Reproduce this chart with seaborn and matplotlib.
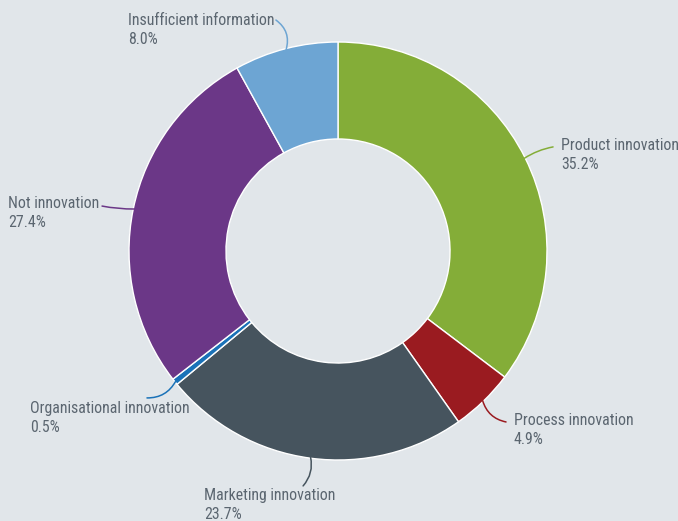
import matplotlib
matplotlib.use("Agg")
import matplotlib.pyplot as plt
import seaborn as sns
import numpy as np

# data
categories = ["Product innovation", "Process innovation", "Marketing innovation",
              "Organisational innovation", "Not innovation", "Insufficient information"]
shares = [35.2, 4.9, 23.7, 0.5, 27.4, 8.0]
colors = ["#84ad38", "#9a1b20", "#46545e", "#1a72b8", "#6b3787", "#6da5d3"]

# label layout: text anchor (left, middle of block), leader end near text, curve
label_pos = {
    "Product innovation": ((1.067, 0.459), (1.029, 0.498), 0.1),
    "Process innovation": ((0.842, -0.856), (0.804, -0.818), -0.3),
    "Marketing innovation": ((-0.641, -1.215), (-0.167, -1.124), 0.25),
    "Organisational innovation": ((-1.474, -0.799), (-0.914, -0.703), 0.3),
    "Not innovation": ((-1.579, 0.182), (-1.129, 0.215), 0.05),
    "Insufficient information": ((-1.005, 1.057), (-0.297, 1.105), -0.35),
}

bg = "#e1e6ea"
txt = "#5b6670"

sns.set_style("white")
plt.rcParams["font.family"] = ["Roboto Condensed", "Roboto", "DejaVu Sans"]

fig = plt.figure(figsize=(6.78, 5.21), dpi=100, facecolor=bg)
ax = fig.add_axes([0, 0, 1, 1])
ax.set_facecolor(bg)

wedges, _ = ax.pie(shares, colors=colors, startangle=90, counterclock=False,
                   radius=1.0, wedgeprops=dict(width=0.464, edgecolor="white", linewidth=1.0))

total = sum(shares)
cum = 0
for w, cat, val, col in zip(wedges, categories, shares, colors):
    mid = 90 - (cum + val / 2) / total * 360
    cum += val
    px, py = np.cos(np.radians(mid)), np.sin(np.radians(mid))
    (tx, ty), (lx, ly), rad = label_pos[cat]
    ax.annotate("", xy=(px * 0.995, py * 0.995), xytext=(lx, ly),
                arrowprops=dict(arrowstyle="-", color=col, lw=1.1,
                                connectionstyle=f"arc3,rad={rad}",
                                shrinkA=0, shrinkB=0))
    ax.text(tx, ty, f"{cat}\n{val:.1f}%", ha="left", va="center",
            fontsize=11.4, color=txt, linespacing=1.4)

ax.set_xlim(-338 / 209, 340 / 209)
ax.set_ylim(-270 / 209, 251 / 209)
ax.set_aspect("equal")
ax.axis("off")

fig.savefig("out.png", dpi=100, facecolor=bg)
